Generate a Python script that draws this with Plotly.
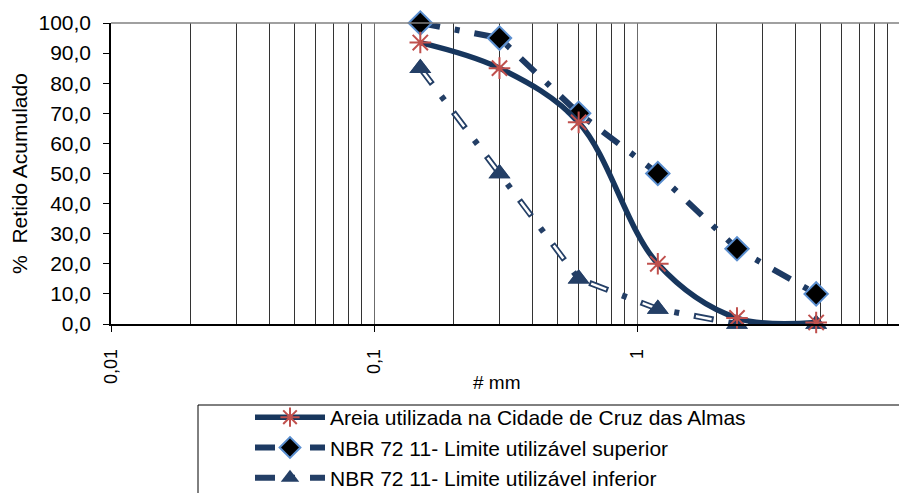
import plotly.graph_objects as go

sieve_mm = [0.15, 0.3, 0.6, 1.2, 2.4, 4.8]
areia = [93.5, 85.0, 67.0, 20.0, 2.0, 0.5]
superior = [100.0, 95.0, 70.0, 50.0, 25.0, 10.0]
inferior = [85.0, 50.0, 15.0, 5.0, 0.0, 0.0]

x_tickvals = [0.01, 0.1, 1, 10]
x_ticktext = ["0,01", "0,1", "1", "10"]
y_tickvals = [0, 10, 20, 30, 40, 50, 60, 70, 80, 90, 100]

names = ["Areia utilizada na Cidade de Cruz das Almas",
         "NBR 72 11- Limite utilizável superior",
         "NBR 72 11- Limite utilizável inferior"]

NAVY = "#1d3a63"
RED = "#c0504d"
minor_vals = [m * d for d in (0.01, 0.1, 1) for m in range(2, 10)]
FONT = "Liberation Sans, Arial, sans-serif"
DASH = "20px,15px,5px,15px"

# page body has an 8px default margin; figure is sized so the window shows it all
W, H = 899, 485
L, T, R, B = 103, 15, 7, 169
PW, PH = W - L - R, H - T - B

fig = go.Figure()

fig.add_trace(go.Scatter(
    x=sieve_mm, y=superior, name=names[1], mode="lines+markers",
    line=dict(color=NAVY, width=6, dash=DASH),
    marker=dict(symbol="diamond", size=18, color="black",
                line=dict(color="#5b8fd0", width=2)),
    legendrank=2, cliponaxis=False))

fig.add_trace(go.Scatter(
    x=sieve_mm, y=inferior, name=names[2], mode="lines+markers",
    line=dict(color="#243f66", width=6, dash=DASH),
    marker=dict(symbol="triangle-up", size=19, color="#243f66"),
    legendrank=3, cliponaxis=False))
fig.add_trace(go.Scatter(
    x=sieve_mm, y=inferior, mode="lines",
    line=dict(color="white", width=2.5, dash="0px,2px,16px,37px"),
    showlegend=False, hoverinfo="skip", cliponaxis=False))
fig.add_trace(go.Scatter(
    x=sieve_mm, y=inferior, mode="markers",
    marker=dict(symbol="triangle-up", size=19, color="#243f66"),
    showlegend=False, hoverinfo="skip", cliponaxis=False))

fig.add_trace(go.Scatter(
    x=sieve_mm, y=areia, name=names[0], mode="lines+markers",
    line=dict(color="#17365d", width=5.5, shape="spline", smoothing=1.0),
    marker=dict(symbol="asterisk-open", size=18, color=RED,
                line=dict(color=RED, width=2)),
    legendrank=1, cliponaxis=False))


def px_x(wx):  # window pixel -> paper x
    return (wx - 8 - L) / PW


def px_y(wy):  # window pixel -> paper y
    return 1 - (wy - 8 - T) / PH


fig.update_layout(
    width=W, height=H,
    margin=dict(l=L, r=R, t=T, b=B, autoexpand=False),
    paper_bgcolor="white", plot_bgcolor="white",
    separators=",.",
    font=dict(family=FONT, size=20, color="black"),
    showlegend=True,
    legend=dict(x=px_x(250), y=px_y(397), xanchor="left", yanchor="top",
                borderwidth=0, bgcolor="rgba(0,0,0,0)",
                font=dict(family=FONT, size=21), itemwidth=70, tracegroupgap=0,
                traceorder="normal"),
    shapes=[
        dict(type="line", xref="paper", yref="paper", x0=0, x1=1, y0=1, y1=1,
             line=dict(color="#808080", width=1.5)),
        dict(type="rect", xref="paper", yref="paper",
             x0=px_x(198), x1=1.05, y0=px_y(405), y1=px_y(520),
             line=dict(color="black", width=1)),
    ],
    annotations=[
        dict(text="# mm", xref="paper", yref="paper", x=px_x(497), y=px_y(382),
             xanchor="center", yanchor="middle", showarrow=False,
             font=dict(family=FONT, size=19)),
    ],
)

fig.update_xaxes(
    type="log", range=[-2, 1],
    tickvals=x_tickvals, ticktext=x_ticktext, tickangle=-90,
    ticks="outside", ticklen=6, tickcolor="black",
    tickfont=dict(family=FONT, size=18), ticklabelstandoff=10,
    showline=True, linecolor="black", linewidth=1.5,
    showgrid=True, gridcolor="#6b6b6b", gridwidth=1,
    minor=dict(tickvals=minor_vals, showgrid=True, gridcolor="#333333", gridwidth=1, ticks=""),
    zeroline=False,
)
fig.update_yaxes(
    range=[0, 100], tickvals=y_tickvals, tickformat=".1f",
    ticks="outside", ticklen=6, tickcolor="black",
    tickfont=dict(family=FONT, size=21), ticklabelstandoff=8,
    showline=True, linecolor="black", linewidth=1.5,
    showgrid=False, zeroline=False,
    title=dict(text="%  Retido Acumulado", font=dict(family=FONT, size=21), standoff=10),
)

fig.write_html("out.html")
